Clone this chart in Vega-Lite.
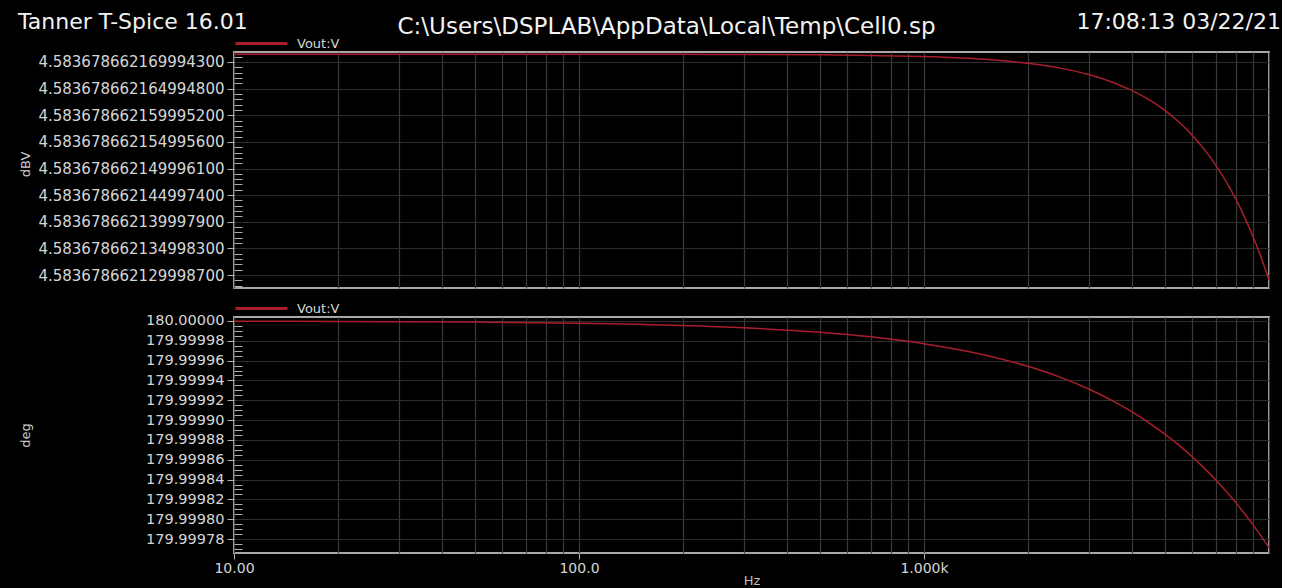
{
  "$schema": "https://vega.github.io/schema/vega-lite/v6.json",
  "background": "#000000",
  "padding": {"left": 18, "top": 10, "right": 0, "bottom": 0},
  "spacing": -15,
  "title": {
    "text": "Tanner T-Spice 16.01",
    "anchor": "start",
    "frame": "bounds",
    "font": "DejaVu Sans",
    "fontSize": 22,
    "fontWeight": "normal",
    "color": "#f2f2f2",
    "offset": 0,
    "dy": 24
  },
  "data": {
    "values": [
      {"f": 10, "dBV": 4.583678662171444, "deg": 179.99999977},
      {"f": 20, "dBV": 4.583678662171444, "deg": 179.99999954},
      {"f": 50, "dBV": 4.583678662171443, "deg": 179.99999886},
      {"f": 100, "dBV": 4.58367866217144, "deg": 179.99999771},
      {"f": 200, "dBV": 4.583678662171427, "deg": 179.99999542},
      {"f": 300, "dBV": 4.583678662171406, "deg": 179.99999314},
      {"f": 500, "dBV": 4.583678662171338, "deg": 179.99998856},
      {"f": 700, "dBV": 4.583678662171236, "deg": 179.99998398},
      {"f": 1000, "dBV": 4.58367866217102, "deg": 179.99997712},
      {"f": 1500, "dBV": 4.583678662170491, "deg": 179.99996568},
      {"f": 2000, "dBV": 4.583678662169749, "deg": 179.99995424},
      {"f": 2500, "dBV": 4.583678662168796, "deg": 179.9999428},
      {"f": 3000, "dBV": 4.58367866216763, "deg": 179.99993136},
      {"f": 3500, "dBV": 4.583678662166253, "deg": 179.99991992},
      {"f": 4000, "dBV": 4.583678662164664, "deg": 179.99990848},
      {"f": 4500, "dBV": 4.583678662162864, "deg": 179.99989704},
      {"f": 5000, "dBV": 4.583678662160851, "deg": 179.9998856},
      {"f": 5500, "dBV": 4.583678662158626, "deg": 179.99987416},
      {"f": 6000, "dBV": 4.58367866215619, "deg": 179.99986272},
      {"f": 6500, "dBV": 4.583678662153541, "deg": 179.99985128},
      {"f": 7000, "dBV": 4.583678662150681, "deg": 179.99983984},
      {"f": 7500, "dBV": 4.583678662147609, "deg": 179.9998284},
      {"f": 8000, "dBV": 4.583678662144325, "deg": 179.99981696},
      {"f": 8500, "dBV": 4.58367866214083, "deg": 179.99980552},
      {"f": 9000, "dBV": 4.583678662137122, "deg": 179.99979408},
      {"f": 9500, "dBV": 4.583678662133202, "deg": 179.99978264},
      {"f": 10000, "dBV": 4.583678662129071, "deg": 179.9997712}
    ]
  },
  "resolve": {"scale": {"color": "independent"}, "legend": {"color": "independent"}},
  "vconcat": [
    {
      "width": 1035,
      "height": 236,
      "title": {
        "text": "17:08:13 03/22/21",
        "anchor": "end",
        "frame": "group",
        "dx": 12,
        "font": "DejaVu Sans",
        "fontSize": 22,
        "fontWeight": "normal",
        "color": "#f2f2f2",
        "baseline": "middle",
        "offset": -29
      },
      "mark": {"type": "line", "strokeWidth": 1.5, "interpolate": "monotone", "clip": true},
      "encoding": {
        "x": {
          "field": "f",
          "type": "quantitative",
          "scale": {"type": "log", "domain": [10, 10000], "nice": false},
          "axis": {
            "orient": "top",
            "values": [10, 20, 30, 40, 50, 60, 70, 80, 90, 100, 200, 300, 400, 500, 600, 700, 800, 900, 1000, 2000, 3000, 4000, 5000, 6000, 7000, 8000, 9000, 10000],
            "labels": false,
            "ticks": false,
            "domain": false,
            "grid": true,
            "gridColor": "#3a3a3a",
            "gridWidth": 1.2,
            "title": "C:\\Users\\DSPLAB\\AppData\\Local\\Temp\\Cell0.sp",
            "titleFont": "DejaVu Sans",
            "titleFontSize": 23,
            "titleFontWeight": "normal",
            "titleColor": "#f2f2f2",
            "titleAngle": 0,
            "titleAlign": "left",
            "titleBaseline": "middle",
            "titleX": 163,
            "titleY": -26
          }
        },
        "y": {
          "field": "dBV",
          "type": "quantitative",
          "scale": {"domain": [4.5836786621275581, 4.5836786621718717], "zero": false, "nice": false},
          "axis": {
            "values": [
              4.5836786621709943,
              4.5836786621699943, 4.5836786621689943, 4.5836786621679943, 4.5836786621669943, 4.5836786621659943,
              4.5836786621649948, 4.5836786621639948, 4.5836786621629948, 4.5836786621619948, 4.5836786621609948,
              4.5836786621599952, 4.5836786621589952, 4.5836786621579952, 4.5836786621569952, 4.5836786621559952,
              4.5836786621549956, 4.5836786621539956, 4.5836786621529956, 4.5836786621519956, 4.5836786621509956,
              4.5836786621499961, 4.5836786621489961, 4.5836786621479961, 4.5836786621469961, 4.5836786621459961,
              4.5836786621449974, 4.5836786621439974, 4.5836786621429974, 4.5836786621419974, 4.5836786621409974,
              4.5836786621399979, 4.5836786621389979, 4.5836786621379979, 4.5836786621369979, 4.5836786621359979,
              4.5836786621349983, 4.5836786621339983, 4.5836786621329983, 4.5836786621319983, 4.5836786621309983,
              4.5836786621299987, 4.5836786621289987, 4.5836786621279987
            ],
            "labelExpr": "abs((datum.value - 4.5836786621299987) / 4.99945e-12 - round((datum.value - 4.5836786621299987) / 4.99945e-12)) < 0.1 ? ['4.583678662129998700', '4.583678662134998300', '4.583678662139997900', '4.583678662144997400', '4.583678662149996100', '4.583678662154995600', '4.583678662159995200', '4.583678662164994800', '4.583678662169994300'][round((datum.value - 4.5836786621299987) / 4.99945e-12)] : ''",
            "labelOverlap": false,
            "labelFlush": false,
            "labelLimit": 0,
            "labelFont": "DejaVu Sans",
            "labelFontSize": 15,
            "labelColor": "#d6d6d6",
            "labelPadding": 3,
            "tickColor": "#b0b0b0",
            "tickSize": {"condition": {"test": "abs((datum.value - 4.5836786621299987) / 4.99945e-12 - round((datum.value - 4.5836786621299987) / 4.99945e-12)) < 0.1", "value": 7}, "value": -8},
            "domain": false,
            "grid": true,
            "gridColor": "#2e2e2e",
            "gridWidth": 1.2,
            "gridOpacity": {"condition": {"test": "abs((datum.value - 4.5836786621299987) / 4.99945e-12 - round((datum.value - 4.5836786621299987) / 4.99945e-12)) < 0.1", "value": 1}, "value": 0},
            "title": "dBV",
            "titleFont": "DejaVu Sans",
            "titleFontSize": 13,
            "titleFontWeight": "normal",
            "titleColor": "#cccccc",
            "titleBaseline": "middle",
            "titleX": -209,
            "titleY": 112
          }
        },
        "color": {
          "datum": "Vout:V",
          "type": "nominal",
          "scale": {"range": ["#a81e2c"]},
          "legend": {
            "orient": "none",
            "legendX": 0,
            "legendY": -36,
            "title": null,
            "symbolType": "stroke",
            "symbolSize": 2700,
            "symbolStrokeWidth": 3,
            "labelFont": "DejaVu Sans",
            "labelFontSize": 13,
            "labelColor": "#d6d6d6",
            "labelOffset": 8
          }
        }
      }
    },
    {
      "width": 1035,
      "height": 236,
      "mark": {"type": "line", "strokeWidth": 1.5, "interpolate": "monotone", "clip": true},
      "encoding": {
        "x": {
          "field": "f",
          "type": "quantitative",
          "scale": {"type": "log", "domain": [10, 10000], "nice": false},
          "axis": {
            "values": [10, 20, 30, 40, 50, 60, 70, 80, 90, 100, 200, 300, 400, 500, 600, 700, 800, 900, 1000, 2000, 3000, 4000, 5000, 6000, 7000, 8000, 9000, 10000],
            "labelExpr": "datum.value == 10 ? '10.00' : datum.value == 100 ? '100.0' : datum.value == 1000 ? '1.000k' : ''",
            "labelOverlap": false,
            "labelFlush": false,
            "labelFont": "DejaVu Sans",
            "labelFontSize": 14,
            "labelColor": "#d6d6d6",
            "labelPadding": 2,
            "tickSize": 6,
            "tickColor": "#b0b0b0",
            "tickOpacity": {"condition": {"test": "datum.value == 10 || datum.value == 100 || datum.value == 1000", "value": 1}, "value": 0},
            "domain": false,
            "grid": true,
            "gridColor": "#3a3a3a",
            "gridWidth": 1.2,
            "title": "Hz",
            "titleFont": "DejaVu Sans",
            "titleFontSize": 13,
            "titleFontWeight": "normal",
            "titleColor": "#bbbbbb",
            "titlePadding": -1
          }
        },
        "y": {
          "field": "deg",
          "type": "quantitative",
          "scale": {"domain": [179.9997659, 180.000004], "zero": false, "nice": false},
          "axis": {
            "values": [180, 179.999995, 179.99999, 179.999985, 179.99998, 179.999975, 179.99997, 179.999965, 179.99996, 179.999955, 179.99995, 179.999945, 179.99994, 179.999935, 179.99993, 179.999925, 179.99992, 179.999915, 179.99991, 179.999905, 179.9999, 179.999895, 179.99989, 179.999885, 179.99988, 179.999875, 179.99987, 179.999865, 179.99986, 179.999855, 179.99985, 179.999845, 179.99984, 179.999835, 179.99983, 179.999825, 179.99982, 179.999815, 179.99981, 179.999805, 179.9998, 179.999795, 179.99979, 179.999785, 179.99978, 179.999775, 179.99977],
            "labelExpr": "abs((180 - datum.value) / 0.00002 - round((180 - datum.value) / 0.00002)) < 0.1 ? format(datum.value, '.5f') : ''",
            "labelOverlap": false,
            "labelFlush": false,
            "labelLimit": 0,
            "labelFont": "DejaVu Sans",
            "labelFontSize": 14.5,
            "labelColor": "#d6d6d6",
            "labelPadding": 3,
            "tickColor": "#b0b0b0",
            "tickSize": {"condition": {"test": "abs((180 - datum.value) / 0.00002 - round((180 - datum.value) / 0.00002)) < 0.1", "value": 7}, "value": -8},
            "domain": false,
            "grid": true,
            "gridColor": "#2e2e2e",
            "gridWidth": 1.2,
            "gridOpacity": {"condition": {"test": "abs((180 - datum.value) / 0.00002 - round((180 - datum.value) / 0.00002)) < 0.1", "value": 1}, "value": 0},
            "title": "deg",
            "titleFont": "DejaVu Sans",
            "titleFontSize": 13,
            "titleFontWeight": "normal",
            "titleColor": "#cccccc",
            "titleBaseline": "middle",
            "titleX": -209
          }
        },
        "color": {
          "datum": "Vout:V",
          "type": "nominal",
          "scale": {"range": ["#a81e2c"]},
          "legend": {
            "orient": "none",
            "legendX": 0,
            "legendY": -36,
            "title": null,
            "symbolType": "stroke",
            "symbolSize": 2700,
            "symbolStrokeWidth": 3,
            "labelFont": "DejaVu Sans",
            "labelFontSize": 13,
            "labelColor": "#d6d6d6",
            "labelOffset": 8
          }
        }
      }
    }
  ],
  "config": {
    "font": "DejaVu Sans",
    "view": {"fill": "#000000", "stroke": "#a8a8a8", "strokeWidth": 2}
  }
}
